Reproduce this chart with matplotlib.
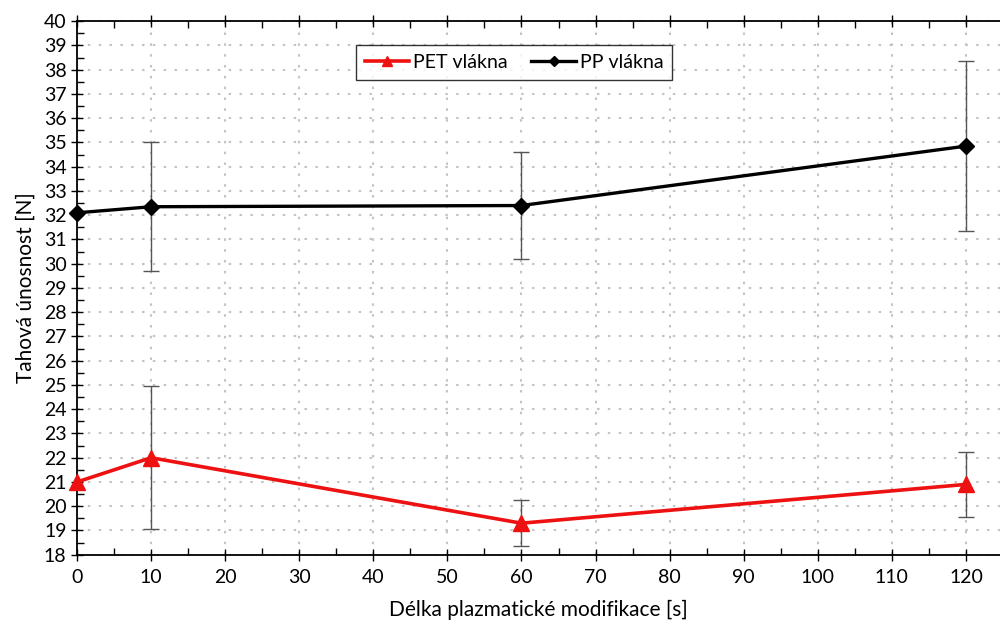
import matplotlib
matplotlib.use('Agg')
import matplotlib.pyplot as plt
from matplotlib.ticker import MultipleLocator

plt.rcParams['font.family'] = ['Lato', 'DejaVu Sans']

# delka modifikace [s]
cas = [0, 10, 60, 120]

# PET vlakna
pet_mean = [21.0, 22.0, 19.3, 20.9]
pet_err = [0.0, 2.95, 0.95, 1.35]

# PP vlakna
pp_mean = [32.1, 32.35, 32.4, 34.85]
pp_err = [0.0, 2.65, 2.2, 3.5]

fig = plt.figure(figsize=(10, 6.24), dpi=100)
ax = fig.add_axes([0.077, 0.111, 0.923, 0.855])

# grid - ridke tecky
ax.grid(True, which='major', axis='both', linestyle=(0, (1.2, 4)), color='#c4c4c4', linewidth=1.5)

# error bars first (grey), then lines
ax.errorbar(cas[1:], pet_mean[1:], yerr=pet_err[1:], fmt='none', ecolor='#555555',
            elinewidth=1.0, capsize=6, capthick=1.0, zorder=3)
ax.errorbar(cas[1:], pp_mean[1:], yerr=pp_err[1:], fmt='none', ecolor='#555555',
            elinewidth=1.0, capsize=6, capthick=1.0, zorder=3)

ax.plot(cas, pet_mean, color='#ee1111', linewidth=2.6, marker='^', markersize=11,
        label='PET vlákna', zorder=4, clip_on=False)
ax.plot(cas, pp_mean, color='black', linewidth=2.4, marker='D', markersize=8,
        label='PP vlákna', zorder=4, clip_on=False)

ax.set_xlim(0, 124.6)
ax.set_ylim(18, 40)
ax.xaxis.set_major_locator(MultipleLocator(10))
ax.xaxis.set_minor_locator(MultipleLocator(5))
ax.yaxis.set_major_locator(MultipleLocator(1))
ax.yaxis.set_minor_locator(MultipleLocator(0.5))

ax.spines['right'].set_visible(False)
for s in ['left', 'bottom', 'top']:
    ax.spines[s].set_linewidth(1.3)

ax.tick_params(axis='both', which='major', direction='inout', length=8, width=1.0,
               labelsize=14, colors='black')
ax.tick_params(axis='both', which='minor', direction='in', length=5, width=1.0)
ax.tick_params(axis='x', which='both', top=True)
ax.tick_params(axis='x', which='major', pad=6)

ax.set_xlabel('Délka plazmatické modifikace [s]', fontsize=15, labelpad=10)
ax.set_ylabel('Tahová únosnost [N]', fontsize=15, labelpad=6)

leg = ax.legend(loc='center', bbox_to_anchor=(0.514, 0.9), bbox_transform=fig.transFigure,
                ncol=2, fontsize=14, frameon=True, fancybox=False, edgecolor='black',
                handlelength=2.3, handletextpad=0.2, columnspacing=1.2,
                borderpad=0.45, markerscale=0.6)
leg.get_frame().set_linewidth(1.0)

fig.savefig('out.png', dpi=100, facecolor='white')
